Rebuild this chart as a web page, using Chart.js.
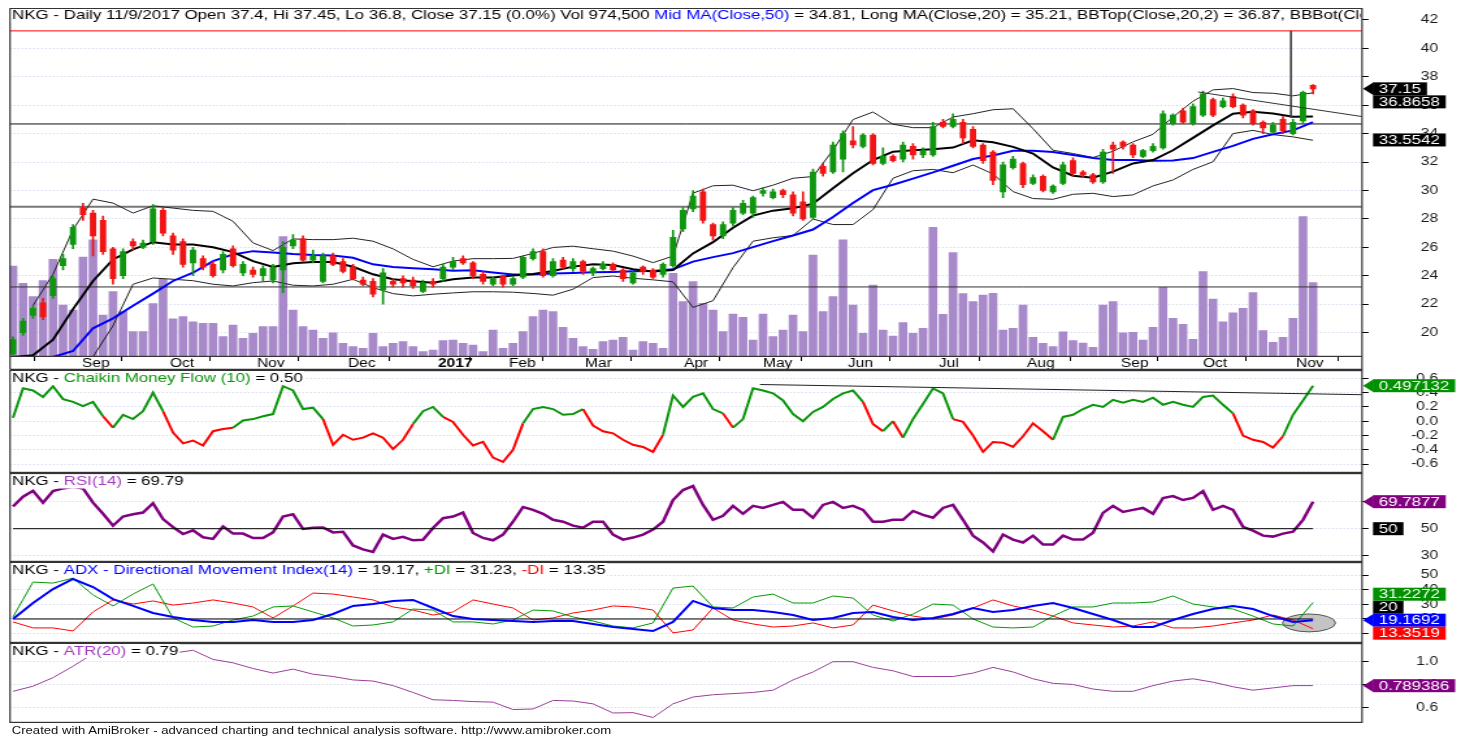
<!DOCTYPE html>
<html>
<head>
<meta charset="utf-8">
<title>NKG daily</title>
<script src="https://cdn.jsdelivr.net/npm/chart.js@4.4.1/dist/chart.umd.min.js"></script>
<style>
  html, body { margin: 0; padding: 0; background: #fff; overflow: hidden; }
  /* the reference picture is stretched sideways, so the whole page is too */
  #page { position: absolute; left: 0; top: 0; width: 1124px; height: 739px; transform-origin: 0 0; transform: scaleX(1.29982); }
  #page canvas { position: absolute; left: 0; }
  #foot { position: absolute; left: 9px; top: 725px; font: 10.1px 'Liberation Sans', Arial, sans-serif; color: #111; white-space: nowrap; }
</style>
</head>
<body>
<div id="page">
  <canvas id="cPrice" width="1124" height="362" style="top:8px"></canvas>
  <canvas id="cCmf" width="1124" height="103" style="top:370px"></canvas>
  <canvas id="cRsi" width="1124" height="89" style="top:473px"></canvas>
  <canvas id="cAdx" width="1124" height="81" style="top:562px"></canvas>
  <canvas id="cAtr" width="1124" height="80" style="top:643px"></canvas>
  <div id="foot">Created with AmiBroker - advanced charting and technical analysis software. http://www.amibroker.com</div>
</div>
<script>
// ---------- data (one bar here = about 2.4 trading days) ----------
const monthLabels = ['Sep','Oct','Nov','Dec','2017','Feb','Mar','Apr','May','Jun','Jul','Aug','Sep','Oct','Nov'];
const monthTickPos = [6.5,15.3,24.0,33.1,42.1,49.2,56.8,66.7,74.6,83.1,92.2,101.0,110.4,118.6,127.9];

const openP = [18.5,20.0,21.2,22.1,22.6,24.7,26.2,28.8,28.4,27.9, 25.9,24.0,26.4,26.0,26.4,28.6,26.8,26.4,24.9,25.2,
  24.8,24.4,25.9,24.2,24.4,24.0,23.7,24.4,26.1,26.6, 25.1,23.6,25.4,25.0,24.6,23.7,23.6,23.0,23.6,23.8,
  23.7,22.9,23.6,23.8,24.6,25.2,24.9,24.1,23.4,24.0, 23.4,23.9,25.2,25.7,24.0,25.1,24.5,25.0,24.2,24.5,
  24.8,24.4,23.5,24.6,24.4,24.1,24.7,27.3,28.7,29.9, 27.6,26.8,27.7,28.4,28.4,29.8,29.5,30.0,29.7,29.2,
  28.1,31.7,31.3,32.2,33.5,33.1,33.9,31.9,32.4,32.2, 33.1,32.5,32.5,34.8,34.5,34.8,34.3,33.2,32.7,29.9,
  31.6,31.9,30.5,31.0,29.9,30.5,32.1,31.3,31.1,30.6, 33.2,33.4,33.2,32.4,32.8,33.0,34.7,35.6,34.7,35.3,
  36.4,35.9,36.6,36.0,35.6,34.8,34.1,35.0,34.0,34.9, 37.4];
const closeP = [19.5,20.8,21.7,21.1,23.8,25.2,27.4,28.3,26.8,25.7, 23.8,25.7,26.1,26.3,28.7,27.0,25.8,24.8,25.8,24.6,
  24.0,25.5,24.7,24.8,24.1,24.5,24.6,26.0,26.5,25.1, 25.4,25.4,24.8,24.3,23.8,23.4,22.7,24.2,23.4,23.5,
  23.3,23.5,23.4,24.6,25.0,24.9,24.0,23.6,23.8,23.4, 23.8,25.3,25.7,24.0,25.0,24.6,25.0,24.3,24.5,24.8,
  24.4,23.8,24.2,24.3,23.9,24.8,26.7,28.6,29.6,27.9, 26.8,27.6,28.6,29.1,29.5,30.0,29.9,29.7,28.4,28.0,
  31.3,31.2,33.2,34.0,33.2,33.9,31.9,32.4,32.1,33.2, 32.5,32.8,34.5,34.5,35.0,33.7,33.1,32.1,30.7,31.8,
  32.2,30.4,30.9,30.0,30.3,31.8,31.2,31.1,30.6,32.7, 32.9,33.1,32.5,32.8,33.1,35.4,35.3,34.8,35.9,36.8,
  35.3,36.3,35.9,35.3,34.7,34.4,34.6,34.2,34.8,36.9, 37.15];
const highP = [19.7,21.0,21.9,22.4,24.0,25.5,27.6,29.1,28.6,28.2, 26.0,25.9,26.6,26.5,29.0,28.8,27.0,26.6,26.0,25.4,
  25.0,25.7,26.1,25.0,24.6,24.7,24.8,26.4,26.9,26.8, 25.8,25.6,25.6,25.2,24.8,23.9,23.8,24.5,23.8,24.0,
  23.9,23.7,23.8,24.8,25.3,25.4,25.0,24.3,23.9,24.0, 23.9,25.4,25.9,25.9,25.2,25.3,25.2,25.1,24.6,25.0,
  24.9,24.5,24.3,24.7,24.5,24.9,27.2,28.8,30.0,30.1, 27.7,27.8,28.8,29.3,29.6,30.2,30.1,30.1,29.9,29.9,
  31.5,31.9,33.4,34.2,34.5,34.0,34.0,33.0,32.5,33.4, 33.3,33.0,34.8,35.0,35.4,35.0,34.5,33.3,32.8,32.0,
  32.4,32.0,31.1,31.1,30.4,32.0,32.3,31.4,31.2,32.9, 33.4,33.5,33.3,32.9,33.3,35.6,35.4,35.8,36.1,37.0,
  36.5,36.5,36.8,36.1,35.7,34.9,34.8,35.2,35.0,37.0, 37.45];
const lowP = [18.4,19.8,21.0,20.9,22.4,24.4,25.9,27.9,25.4,25.5, 23.4,23.8,25.8,25.9,26.2,26.8,25.5,24.6,24.0,24.4,
  23.9,24.2,24.6,24.0,23.9,23.6,23.5,22.8,25.9,25.0, 24.9,23.5,24.7,24.2,23.7,23.3,22.5,22.0,23.2,23.2,
  23.1,22.8,23.2,23.6,24.4,24.8,23.8,23.4,23.3,23.2, 23.3,23.8,25.1,23.9,23.9,24.5,24.3,24.1,24.0,24.4,
  24.3,23.6,23.4,24.1,23.8,23.9,24.6,27.1,28.5,27.7, 26.5,26.6,27.5,28.3,28.1,29.6,29.4,29.5,28.2,27.9,
  28.0,31.0,31.2,31.3,33.0,33.0,31.8,31.8,32.0,32.0, 32.2,32.3,32.4,34.4,34.4,33.3,33.0,31.9,30.4,29.5,
  31.5,30.2,30.4,29.9,29.8,30.4,31.0,30.9,30.5,30.5, 31.2,32.9,32.3,32.3,32.7,32.9,34.6,34.7,34.6,35.2,
  35.2,35.8,35.8,35.1,34.6,34.0,34.0,34.0,33.9,34.7, 36.8];
const volumeK = [1190,965,790,1000,1280,681,616,1310,1533,550, 856,594,332,332,700,1017,500,528,462,441,
  441,266,419,245,310,397,397,1576,616,397, 354,245,318,179,135,114,310,135,179,201,
  135,70,92,214,223,179,157,70,354,114, 179,332,528,616,594,389,245,135,101,201,
  223,258,92,201,179,114,1096,725,987,703, 616,332,563,520,223,563,266,354,550,332,
  1336,594,790,1533,681,310,943,354,275,450, 310,376,1699,560,1366,830,725,812,834,354,
  376,681,258,179,135,328,214,183,127,681, 725,318,323,223,389,913,507,428,232,1118,
  760,462,580,638,842,345,192,258,507,1838, 975];

// averages and bands, every second bar
const ma20 = [18.28,18.4,19.5,21.65,23.63,25.15,25.85,26.36,26.2,26.2,26.0,25.66,25.03,24.61,24.87,24.96,24.96,24.63,24.1,23.75,23.61,23.5,23.75,
  23.87,23.87,24.01,24.12,24.33,24.64,24.8,24.75,24.45,24.29,24.4,25.57,26.36,27.37,28.23,28.58,28.74,29.07,30.16,31.21,32.14,32.73,
  32.83,32.9,33.02,33.53,33.39,33.07,32.6,31.62,31.04,30.9,31.32,31.9,32.14,32.83,33.7,34.58,35.4,35.54,35.42,35.19,35.21];
const ma50 = [18.28,18.28,18.28,18.7,20.3,21.0,21.88,22.74,23.63,24.21,25.03,25.5,25.73,25.64,25.52,25.45,25.43,25.26,24.8,24.61,24.52,24.45,24.35,
  24.38,24.22,24.08,24.08,24.15,24.2,24.24,24.27,24.31,24.33,24.45,24.99,25.31,25.59,26.01,26.43,26.83,27.25,28.13,29.11,30.02,30.4,
  30.83,31.27,31.74,32.21,32.46,32.79,32.79,32.7,32.49,32.28,32.14,32.14,32.09,32.11,32.28,32.72,33.14,33.63,33.95,34.23,34.81];
const bbTop = [null,21.9,24.1,27.24,29.39,29.11,28.41,28.92,28.76,28.6,28.53,27.83,26.31,25.77,26.59,26.54,26.54,26.64,26.43,25.89,25.15,24.63,25.03,
  25.2,25.2,25.22,25.57,25.99,26.08,25.9,25.73,25.38,24.92,25.38,29.81,30.33,30.37,29.98,30.37,30.86,30.98,32.84,34.99,35.52,34.66,
  34.42,34.42,35.17,35.4,35.68,35.75,34.35,32.83,32.6,32.32,32.76,33.42,33.95,35.17,36.28,37.08,37.17,36.89,36.84,36.66,36.87];
const bbBot = [null,null,null,null,18.3,20.48,23.4,23.84,23.75,23.65,23.4,23.28,23.51,23.63,23.33,23.28,23.4,23.75,23.16,22.74,22.58,22.7,22.79,
  22.87,22.87,22.84,22.75,22.63,23.05,23.87,23.98,23.82,23.71,23.57,21.77,22.24,24.57,26.43,26.67,26.83,27.99,27.6,27.6,28.65,30.86,
  31.39,31.48,31.25,31.79,31.16,29.92,29.43,29.38,29.73,29.8,29.57,29.69,30.32,30.74,31.48,32.02,34.0,34.23,33.93,33.77,33.53];

const cmf = [0.05,0.46,0.43,0.34,0.49,0.31,0.27,0.21,0.27,0.07, -0.09,0.09,0.03,0.14,0.4,0.14,-0.16,-0.31,-0.27,-0.34,
  -0.14,-0.11,-0.09,0.01,0.03,0.07,0.1,0.49,0.43,0.17, 0.19,0.03,-0.33,-0.19,-0.26,-0.23,-0.17,-0.23,-0.39,-0.26,
  -0.04,0.14,0.2,0.06,-0.01,-0.19,-0.34,-0.29,-0.51,-0.57, -0.4,-0.03,0.17,0.2,0.17,0.09,0.1,0.17,-0.06,-0.14,
  -0.17,-0.26,-0.33,-0.36,-0.43,-0.19,0.36,0.2,0.34,0.39, 0.17,0.11,-0.09,0.03,0.46,0.43,0.39,0.29,0.1,0,
  0.13,0.2,0.31,0.39,0.43,0.27,-0.04,-0.14,0,-0.23, 0.03,0.24,0.46,0.39,0.03,-0.01,-0.2,-0.43,-0.29,-0.3,
  -0.36,-0.21,-0.03,-0.14,-0.26,0.06,0.09,0.17,0.23,0.2, 0.3,0.26,0.3,0.27,0.33,0.23,0.27,0.23,0.2,0.34,
  0.36,0.23,0.11,-0.2,-0.26,-0.29,-0.37,-0.21,0.09,0.29, 0.497];
const rsi = [66.2,73.4,77.8,69.1,77.5,79.5,80.7,79.5,69.1,60.9, 52.2,58.9,60.6,61.8,68.6,57.0,51.2,46.1,48.8,43.7,
  42.5,51.7,46.4,46.4,43.2,43.2,47.3,58.9,60.6,49.8, 50.7,50.9,47.3,47.8,37.7,34.8,33.0,45.7,42.5,44.0,
  41.5,41.9,50.5,57.7,58.9,61.8,46.9,43.2,41.5,45.7, 55.1,65.9,63.8,60.9,56.5,55.1,52.2,50.7,55.1,55.1,
  45.7,42.0,43.5,45.7,49.3,55.1,71.0,78.3,81.2,67.4, 56.5,59.4,66.7,60.9,66.7,65.2,67.4,69.6,63.8,63.8,
  58.0,67.4,69.6,65.2,66.7,63.8,55.1,55.1,56.5,56.5, 63.0,60.1,58.0,65.2,67.4,56.5,44.9,39.9,33.3,45.7,
  42.0,39.9,44.9,38.4,38.4,44.9,42.0,42.0,47.1,61.6, 66.7,62.3,63.8,65.2,60.9,72.5,73.9,71.0,72.5,77.5,
  63.8,66.7,63.8,51.4,48.6,44.9,44.2,46.4,47.8,56.5, 69.79];
// ADX, DI and ATR, every second bar
const adx = [20,30.9,40.4,47.3,41.8,33.6,28.9,24.1,21.4,19.3,18,18,19.3,18,18,19.3,23.4,28.9,30.2,32.3,33,27.5,22,
  20,19.3,18.6,18,18.6,18.6,16.6,14.5,13.2,11.8,18,32.3,27.5,26.1,26.1,24.8,22.7,19.3,20.7,24.1,24.8,21.4,
  19.3,20.7,23.4,27.5,24.8,26.1,28.9,30.9,27.5,23.4,19.3,14.5,14.5,19.3,23.4,26.8,28.9,26.8,22,18,19.17];
const plusDI = [21.4,45.2,44.5,47.9,36.4,28.9,37,43.9,20.7,14.5,15.2,19.3,22,28.2,28.9,24.8,20.7,15.2,15.9,18,26.8,26.1,18,
  18,16.6,19.3,26.1,25.5,21.4,18.6,15.2,13.9,17.3,41.1,42.5,28.2,27.5,35,37,30.9,30.9,35.7,34.3,22.7,18.6,
  23.4,30.2,29.5,20,14.5,13.9,14.5,22,28.2,28.2,30.9,30.9,31.6,35.7,30.2,28.2,26.8,22,16.6,15.2,31.23];
const minusDI = [18,13.9,13.9,11.8,24.8,33,30.2,32.3,29.5,30.9,33,30.9,28.2,20.7,28.9,37.7,37,35,33,28.2,26.1,22.7,24.8,
  33,30.2,27.5,19.3,20.7,24.1,26.1,28.9,28.2,26.1,10.5,12.5,27.5,19.3,16.6,14.5,15.2,17.3,13.9,15.9,29.5,25.5,
  22,20,22.7,27.5,33,28.9,26.1,22,17.3,15.9,14.5,15.2,18,13.9,13.9,15.2,17.3,19.3,22.7,19.3,13.35];
const atr = [0.74,0.785,0.86,0.96,1.07,1.07,1.06,1.05,1.075,1.10,1.02,0.99,0.94,0.90,0.935,0.89,0.87,0.84,0.83,0.79,0.73,0.666,0.66,
  0.65,0.645,0.58,0.585,0.66,0.655,0.63,0.55,0.553,0.51,0.63,0.69,0.71,0.72,0.73,0.75,0.84,0.91,1.0,1.0,0.95,0.92,
  0.87,0.87,0.87,0.90,0.95,0.91,0.85,0.81,0.80,0.76,0.74,0.74,0.79,0.83,0.85,0.82,0.78,0.75,0.77,0.79,0.79];

// drawn study lines and reference levels
const priceLevels = [41.23, 34.68, 28.86, 23.21];
const priceTrend = { x: [118.5, 134.9], y: [36.93, 35.2] };
const priceMarker = { x: 127.8, y: [41.23, 35.1] };
const cmfTrend = { x: [74.7, 134.9], y: [0.514, 0.371] };
const rsiLevel = 50;
const adxLevel = 20;
const adxEllipse = { cx: 129.6, cy: 17.3, rx: 2.65, ry: 6.1 };

const priceTicks = [20,22,24,26,28,30,32,34,36,38,40,42];
const cmfTicks = [-0.6,-0.4,-0.2,0,0.2,0.4,0.6];
const rsiTicks = [30,50,70];
const adxTicks = [10,20,30,40,50];
const atrTicks = [0.6,0.8,1.0];

// last values shown in the boxes at the right
const priceBoxes = [{v: 37.15, t: '37.15', c: '#000', arrow: true}, {v: 36.8658, t: '36.8658', c: '#000'}, {v: 33.5542, t: '33.5542', c: '#000'}];
const cmfBoxes = [{v: 0.497132, t: '0.497132', c: '#009000', arrow: true}];
const rsiBoxes = [{v: 69.7877, t: '69.7877', c: '#800080', arrow: true}, {v: 50, t: '50', c: '#000'}];
const adxBoxes = [{v: 31.2272, t: '31.2272', c: '#009000'}, {v: 20, t: '20', c: '#000'}, {v: 19.1692, t: '19.1692', c: '#0000ff', arrow: true}, {v: 13.3519, t: '13.3519', c: '#ff0000'}];
const atrBoxes = [{v: 0.789386, t: '0.789386', c: '#800080', arrow: true}];

// ---------- layout ----------
const FONT = "'Liberation Sans', Arial, sans-serif";
const STRETCH = 1461 / 1124;
const PLOT_LEFT = 10 / STRETCH;
const PLOT_RIGHT = 1362 / STRETCH;
const LABEL_RIGHT = 1438 / STRETCH;
const BOX_LEFT = 1373 / STRETCH;
const ARROW_TIP = 1363 / STRETCH;
const AXIS_W = 40;
const RIGHT_PAD = 1124 - PLOT_RIGHT - AXIS_W;
const X_MIN = -0.3, X_MAX = 134.9;
const UP = '#0f960f', DOWN = '#f01414', VOL = 'rgb(168,138,202)';
const GREEN = '#0a960a', RED = '#ff0000', BLUE = '#0000ff', PURPLE = '#800080', TXTPURPLE = '#a23cbe';

Chart.defaults.font.family = FONT;
Chart.defaults.font.size = 12;
Chart.defaults.color = '#000';

const barIdx = closeP.map((_, i) => i);
const evenIdx = ma20.map((_, k) => 2 * k);
const pts = (xs, ys) => ys.map((v, k) => ({x: xs[k], y: v}));
const flat = v => [{x: X_MIN, y: v}, {x: X_MAX, y: v}];
const seg = o => o.x.map((x, k) => ({x: x, y: o.y[k]}));

function line(data, color, width, order, extra) {
  return Object.assign({type: 'line', data: data, borderColor: color, borderWidth: width,
    pointRadius: 0, tension: 0, fill: false, order: order}, extra || {});
}

const DECOR = {};

function placeBoxes(items, h) {
  const fixed = items.filter(b => b.arrow);
  fixed.forEach(b => { b.py = b.y; });
  const anchor = fixed.length ? fixed[0].y : items[0].y;
  const placed = fixed.slice();
  items.filter(b => !b.arrow)
    .sort((p, q) => Math.abs(p.y - anchor) - Math.abs(q.y - anchor))
    .forEach(b => {
      let py = b.y;
      for (let n = 0; n < 8; n++) {
        const hit = placed.find(p => Math.abs(p.py - py) < h - 0.01);
        if (!hit) break;
        py = b.y >= hit.py ? hit.py + h : hit.py - h;
      }
      b.py = py;
      placed.push(b);
    });
  return placed;
}

const panelDecor = {
  id: 'panelDecor',
  beforeDatasetsDraw(chart) {
    const o = DECOR[chart.canvas.id];
    if (!o || !o.ellipse) return;
    const e = o.ellipse, xs = chart.scales.x, ys = chart.scales.y, ctx = chart.ctx;
    const cx = xs.getPixelForValue(e.cx), cy = ys.getPixelForValue(e.cy);
    const rx = Math.abs(xs.getPixelForValue(e.cx + e.rx) - cx);
    const ry = Math.abs(ys.getPixelForValue(e.cy + e.ry) - cy);
    ctx.save();
    ctx.beginPath();
    ctx.ellipse(cx, cy, rx, ry, 0, 0, Math.PI * 2);
    ctx.fillStyle = '#c4c4c4';
    ctx.fill();
    ctx.strokeStyle = '#555';
    ctx.lineWidth = 1;
    ctx.stroke();
    ctx.restore();
  },
  afterDraw(chart) {
    const o = DECOR[chart.canvas.id];
    if (!o) return;
    const ctx = chart.ctx, a = chart.chartArea, ys = chart.scales.y;
    ctx.save();
    // frame
    ctx.strokeStyle = '#333';
    ctx.lineWidth = 1.2;
    ctx.strokeRect(a.left, a.top + 0.6, a.right - a.left, a.bottom - a.top - 1.2);
    if (o.band) {
      const hb = chart.height - 0.6;
      ctx.beginPath();
      ctx.moveTo(a.left, a.bottom); ctx.lineTo(a.left, hb);
      ctx.moveTo(a.right, a.bottom); ctx.lineTo(a.right, chart.height);
      ctx.moveTo(a.left, hb); ctx.lineTo(a.right, hb);
      ctx.stroke();
    }
    // y tick labels
    ctx.font = '12px ' + FONT;
    ctx.fillStyle = '#1a1a1a';
    ctx.textAlign = 'right';
    ctx.textBaseline = 'middle';
    ys.ticks.forEach(t => ctx.fillText(t.value.toFixed(o.dec), LABEL_RIGHT, ys.getPixelForValue(t.value)));
    // title
    ctx.save();
    ctx.beginPath();
    ctx.rect(a.left + 1, a.top + 1, a.right - a.left - 2, a.bottom - a.top - 2);
    ctx.clip();
    ctx.font = '13px ' + FONT;
    ctx.textAlign = 'left';
    let tx = a.left + 1.6;
    const ty = a.top + o.titleY;
    const total = o.title.reduce((s, p) => s + ctx.measureText(p[0]).width, 0);
    ctx.fillStyle = '#fff';
    ctx.fillRect(tx - 1, ty - 7, total + 2, 14);
    o.title.forEach(p => { ctx.fillStyle = p[1]; ctx.fillText(p[0], tx, ty); tx += ctx.measureText(p[0]).width; });
    ctx.restore();
    // value boxes
    const H = 13;
    ctx.font = '13px ' + FONT;
    const items = o.boxes.map(b => Object.assign({}, b, {y: ys.getPixelForValue(b.v)}));
    placeBoxes(items, H).forEach(b => {
      const w = ctx.measureText(b.t).width + 9;
      ctx.fillStyle = b.c;
      ctx.fillRect(BOX_LEFT, b.py - H / 2, w, H);
      if (b.arrow) {
        ctx.beginPath();
        ctx.moveTo(ARROW_TIP, b.py);
        ctx.lineTo(BOX_LEFT + 0.5, b.py - H / 2);
        ctx.lineTo(BOX_LEFT + 0.5, b.py + H / 2);
        ctx.closePath();
        ctx.fill();
      }
      ctx.fillStyle = '#fff';
      ctx.textAlign = 'left';
      ctx.fillText(b.t, BOX_LEFT + 4.4, b.py + 0.5);
    });
    ctx.restore();
  }
};

function xScale(show) {
  const s = {type: 'linear', min: X_MIN, max: X_MAX, offset: false, display: show,
    grid: {display: false}, border: {display: false}, ticks: {display: false}};
  if (show) {
    s.grid = {display: true, drawOnChartArea: false, drawTicks: true, tickLength: 4, tickColor: '#000', color: '#000'};
    s.ticks = {display: true, autoSkip: false, maxRotation: 0, minRotation: 0, align: 'start', labelOffset: 3, padding: -3,
      color: '#000',
      font: c => ({family: FONT, size: 12, lineHeight: 1, weight: monthLabels[c.index] === '2017' ? 'bold' : 'normal'}),
      callback: (v, i) => monthLabels[i]};
    s.afterBuildTicks = sc => { sc.ticks = monthTickPos.map(v => ({value: v})); };
    s.afterFit = sc => { sc.height = 13; };
  }
  return s;
}

function yScale(min, max, tickVals) {
  return {type: 'linear', position: 'right', min: min, max: max,
    grid: {color: 'rgba(165,175,215,0.6)', lineWidth: 1, tickLength: 5, tickColor: '#000', drawTicks: true, drawOnChartArea: true},
    border: {display: false, dash: [1, 2]},
    ticks: {display: false},
    afterBuildTicks: sc => { sc.ticks = tickVals.map(v => ({value: v})); },
    afterFit: sc => { sc.width = AXIS_W; }};
}

function makeChart(id, datasets, scales, decor) {
  DECOR[id] = decor;
  return new Chart(document.getElementById(id), {
    type: 'line',
    data: {datasets: datasets},
    options: {
      responsive: false, animation: false, devicePixelRatio: 1, events: [],
      layout: {padding: {left: PLOT_LEFT, right: RIGHT_PAD, top: 0, bottom: 0}},
      plugins: {legend: {display: false}, tooltip: {enabled: false}},
      scales: scales
    },
    plugins: [panelDecor]
  });
}

// ---------- price + volume ----------
const candleColor = c => closeP[c.dataIndex] >= openP[c.dataIndex] ? UP : DOWN;
const levelStyle = [['#ff0000', 1], ['#111', 1], ['#777', 2], ['#333', 1]];
makeChart('cPrice', [
  {type: 'bar', yAxisID: 'v', data: pts(barIdx, volumeK), backgroundColor: VOL, barThickness: 6, grouped: false, order: 20},
  ...priceLevels.map((v, k) => line(flat(v), levelStyle[k][0], levelStyle[k][1], 12)),
  line(pts(evenIdx, bbTop), '#222', 1, 8),
  line(pts(evenIdx, bbBot), '#222', 1, 8),
  line(pts(evenIdx, ma50), BLUE, 2, 6),
  line(pts(evenIdx, ma20), '#000', 2, 5),
  {type: 'bar', data: barIdx.map(i => ({x: i, y: [lowP[i], highP[i]]})), backgroundColor: candleColor, barThickness: 1, grouped: false, order: 4},
  {type: 'bar', data: barIdx.map(i => ({x: i, y: [openP[i], closeP[i]]})), backgroundColor: candleColor, barThickness: 4.2, minBarLength: 1, grouped: false, order: 3},
  line(seg(priceTrend), '#333', 1, 2),
  line([{x: priceMarker.x, y: priceMarker.y[0]}, {x: priceMarker.x, y: priceMarker.y[1]}], '#444', 1, 2)
], {
  x: xScale(true),
  y: yScale(18.28, 42.84, priceTicks),
  v: {type: 'linear', display: false, min: 0, max: 4570}
}, {
  band: true, dec: 0, titleY: 7, boxes: priceBoxes,
  title: [['NKG - Daily 11/9/2017 Open 37.4, Hi 37.45, Lo 36.8, Close 37.15 (0.0%) Vol 974,500 ', '#000'],
    ['Mid MA(Close,50)', BLUE],
    [' = 34.81, Long MA(Close,20) = 35.21, BBTop(Close,20,2) = 36.87, BBBot(Close,20,2) = 33.55', '#000']]
});

// ---------- Chaikin money flow ----------
makeChart('cCmf', [
  line(pts(barIdx, cmf), GREEN, 2, 3, {segment: {borderColor: c => c.p1.parsed.y >= 0 ? GREEN : RED}}),
  line(seg(cmfTrend), '#222', 1, 2)
], {x: xScale(false), y: yScale(-0.725, 0.717, cmfTicks)}, {
  dec: 1, titleY: 8, boxes: cmfBoxes,
  title: [['NKG - ', '#000'], ['Chaikin Money Flow (10)', GREEN], [' = 0.50', '#000']]
});

// ---------- RSI ----------
makeChart('cRsi', [
  line(pts(barIdx, rsi), PURPLE, 2.5, 3),
  line([{x: 0, y: rsiLevel}, {x: barIdx.length - 1, y: rsiLevel}], '#000', 1, 2)
], {x: xScale(false), y: yScale(25.6, 90.8, rsiTicks)}, {
  dec: 0, titleY: 8.5, boxes: rsiBoxes,
  title: [['NKG - ', '#000'], ['RSI(14)', TXTPURPLE], [' = 69.79', '#000']]
});

// ---------- ADX ----------
makeChart('cAdx', [
  line(pts(evenIdx, plusDI), '#009900', 1, 4),
  line(pts(evenIdx, minusDI), RED, 1, 4),
  line([{x: 0, y: adxLevel}, {x: barIdx.length - 1, y: adxLevel}], '#000', 1, 3),
  line(pts(evenIdx, adx), BLUE, 2, 2)
], {x: xScale(false), y: yScale(3.6, 58.9, adxTicks)}, {
  dec: 0, titleY: 8, boxes: adxBoxes, ellipse: adxEllipse,
  title: [['NKG - ', '#000'], ['ADX - Directional Movement Index(14)', BLUE], [' = 19.17, ', '#000'],
    ['+DI', '#009900'], [' = 31.23, ', '#000'], ['-DI', RED], [' = 13.35', '#000']]
});

// ---------- ATR ----------
makeChart('cAtr', [
  line(pts(evenIdx, atr), '#9a3d9a', 1, 2)
], {x: xScale(false), y: yScale(0.462, 1.164, atrTicks)}, {
  dec: 1, titleY: 8, boxes: atrBoxes,
  title: [['NKG - ', '#000'], ['ATR(20)', TXTPURPLE], [' = 0.79', '#000']]
});
</script>
</body>
</html>
